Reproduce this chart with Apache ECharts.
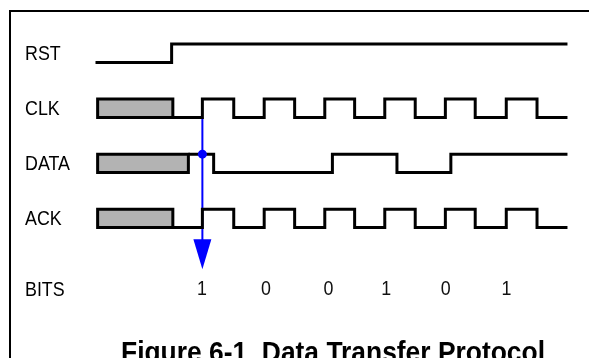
<!DOCTYPE html>
<html><head><meta charset="utf-8">
<script src="https://cdn.jsdelivr.net/npm/echarts@6/dist/echarts.min.js"></script>
<style>html,body{margin:0;padding:0;background:#fff}#c{width:589px;height:358px}</style>
</head><body><div id="c"></div>
<script>
// ---- data (time in half-clock units) ----
const signalNames = ['RST', 'CLK', 'DATA', 'ACK'];
const rstStart = 0.0, rstInit = 0, rstEdges = [2.5];
const clkStart = 2.54, clkInit = 0, clkEdges = [3.51, 4.54, 5.54, 6.54, 7.53, 8.51, 9.50, 10.50, 11.49, 12.47, 13.49, 14.50];
const dataStart = 3.05, dataInit = 1, dataEdges = [3.88, 7.78, 9.90, 11.67];
const ackStart = 2.54, ackInit = 0, ackEdges = [3.51, 4.54, 5.54, 6.54, 7.53, 8.51, 9.50, 10.50, 11.49, 12.47, 13.49, 14.50];
const signalEnd = 15.5;
const unknownRows = [1, 2, 3];
const unknownFrom = [0.07, 0.07, 0.07];
const unknownTo = [2.54, 3.05, 2.54];
const bitLabels = ['1', '0', '0', '1', '0', '1'];
const bitTimes = [3.5, 5.6, 7.65, 9.55, 11.5, 13.5];
const sampleTime = 3.51;       // sampling instant (blue marker)
const sampleRow = 2;           // DATA row, sampled at high level
const arrowEnd = -9.7;         // where the blue line meets the arrow head
const arrowMid = -10.45;
const titleText = 'Figure 6-1  Data Transfer Protocol';

// ---- helpers ----
const ROW = 3;
function lvlY(row, lvl) { return -ROW * row + lvl; }
function wave(row, start, init, edges, end) {
  const pts = [];
  let l = init;
  pts.push([start, lvlY(row, l)]);
  edges.forEach(e => { pts.push([e, lvlY(row, l)]); l = 1 - l; pts.push([e, lvlY(row, l)]); });
  pts.push([end, lvlY(row, l)]);
  return pts;
}
const waves = [
  wave(0, rstStart, rstInit, rstEdges, signalEnd),
  wave(1, clkStart, clkInit, clkEdges, signalEnd),
  wave(2, dataStart, dataInit, dataEdges, signalEnd),
  wave(3, ackStart, ackInit, ackEdges, signalEnd)
];
const boxData = unknownRows.map((r, i) => [unknownFrom[i], unknownTo[i], r]);

const chart = echarts.init(document.getElementById('c'), null, { renderer: 'canvas' });
const lineSeries = waves.map((w, i) => ({
  type: 'line', name: signalNames[i], data: w, symbol: 'none', animation: false, z: 5,
  lineStyle: { color: '#000', width: 3, join: 'miter', cap: 'butt' }
}));

chart.setOption({
  animation: false,
  backgroundColor: '#fff',
  grid: { left: 4.15, top: 25.7, width: 578.55, height: 293.6, show: false },
  xAxis: { type: 'value', min: -3, max: 16, show: false },
  yAxis: { type: 'value', min: -14, max: 2, show: false },
  series: [
    {
      type: 'custom', data: boxData, z: 6, animation: false,
      renderItem: function (params, api) {
        const r = api.value(2);
        const p1 = api.coord([api.value(0), lvlY(r, 1)]);
        const p2 = api.coord([api.value(1), lvlY(r, 0)]);
        return { type: 'rect', shape: { x: p1[0], y: p1[1], width: p2[0] - p1[0], height: p2[1] - p1[1] },
                 style: { fill: '#b3b3b3', stroke: '#000', lineWidth: 3 } };
      }
    },
    {
      type: 'line', data: [[sampleTime, lvlY(1, 0)], [sampleTime, arrowEnd]], symbol: 'none', z: 3,
      lineStyle: { color: '#0000ff', width: 2, opacity: 1 }
    },
    {
      type: 'scatter', data: [[sampleTime, lvlY(sampleRow, 1)]], symbol: 'circle', symbolSize: 9, z: 8,
      itemStyle: { color: '#0000ff', opacity: 1 }
    },
    {
      type: 'scatter', data: [[sampleTime, arrowMid]], symbol: 'triangle', symbolSize: [18, 30], symbolRotate: 180, z: 8,
      itemStyle: { color: '#0000ff', opacity: 1 }
    }
  ].concat(lineSeries)
});

// ---- texts (slightly condensed, as in the reference) ----
const graphics = [
  { type: 'rect', shape: { x: 10, y: 11, width: 1000, height: 1000 }, style: { fill: 'none', stroke: '#000', lineWidth: 2 }, z: 1 }
];
const labelFont = '21px "Liberation Sans", Arial, sans-serif';
signalNames.concat(['BITS']).forEach((name, r) => {
  const yv = r < 4 ? lvlY(r, 0.5) : -12.37;
  const p = chart.convertToPixel({ gridIndex: 0 }, [0, yv]);
  graphics.push({ type: 'text', x: 25, y: p[1] + 0.6, scaleX: 0.85, z: 10,
    style: { text: name, font: labelFont, fill: '#000', align: 'left', verticalAlign: 'middle' } });
});
bitLabels.forEach((b, i) => {
  const p = chart.convertToPixel({ gridIndex: 0 }, [bitTimes[i], -12.37]);
  graphics.push({ type: 'text', x: p[0], y: p[1], scaleX: 0.85, z: 10,
    style: { text: b, font: labelFont, fill: '#111', align: 'center', verticalAlign: 'middle' } });
});
graphics.push({ type: 'text', x: 121, y: 354.2, scaleX: 0.88, z: 10,
  style: { text: titleText, font: 'bold 30px "Liberation Sans", Arial, sans-serif', fill: '#000', align: 'left', verticalAlign: 'middle' } });
chart.setOption({ graphic: { elements: graphics } });
</script></body></html>
